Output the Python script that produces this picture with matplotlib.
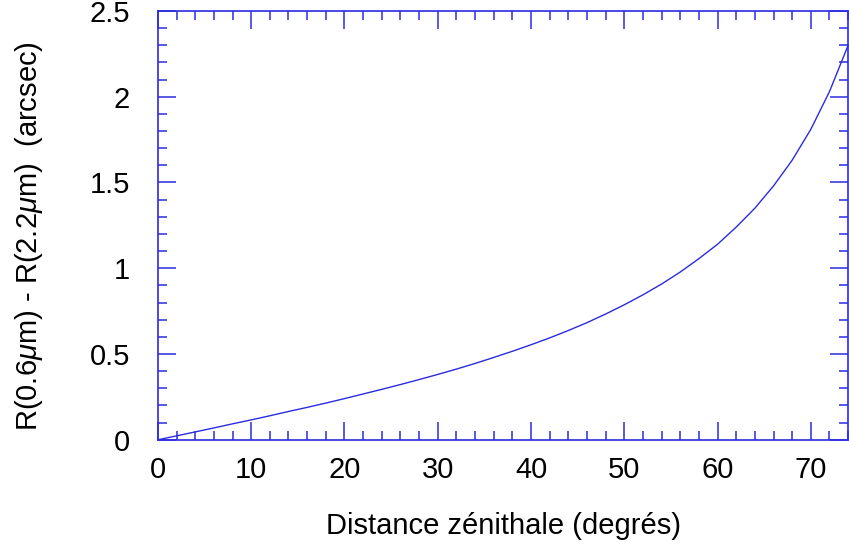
import matplotlib
matplotlib.use("Agg")
import matplotlib.pyplot as plt
from matplotlib.ticker import MultipleLocator

plt.rcParams["font.family"] = ["Liberation Sans", "DejaVu Sans"]
plt.rcParams["mathtext.fontset"] = "custom"
plt.rcParams["mathtext.it"] = "Liberation Sans:italic"
plt.rcParams["mathtext.rm"] = "Liberation Sans"

BLUE = "#2b2be0"

# zenith distance (degrees) and differential refraction (arcsec)
zenith = [0, 2, 4, 6, 8, 10, 12, 14, 16, 18, 20, 22, 24, 26, 28, 30, 32, 34, 36,
          38, 40, 42, 44, 46, 48, 50, 52, 54, 56, 58, 60, 62, 64, 66, 68, 70, 72, 74]
diff_refr = [0.0, 0.023, 0.046, 0.069, 0.093, 0.116, 0.140, 0.165, 0.189, 0.214,
             0.240, 0.267, 0.294, 0.322, 0.351, 0.381, 0.412, 0.445, 0.480, 0.516,
             0.554, 0.594, 0.637, 0.683, 0.733, 0.787, 0.845, 0.908, 0.978, 1.056,
             1.14, 1.24, 1.35, 1.48, 1.63, 1.81, 2.03, 2.30]

fig = plt.figure(figsize=(8.49, 5.47), dpi=100)
ax = fig.add_axes([0.186, 0.196, 0.813, 0.784])

ax.plot(zenith, diff_refr, color=BLUE, linewidth=1.0, clip_on=False)

ax.set_xlim(0, 74)
ax.set_ylim(0, 2.5)
ax.xaxis.set_major_locator(MultipleLocator(10))
ax.xaxis.set_minor_locator(MultipleLocator(2))
ax.yaxis.set_major_locator(MultipleLocator(0.5))
ax.yaxis.set_minor_locator(MultipleLocator(0.1))
ax.set_yticks([0, 0.5, 1, 1.5, 2, 2.5])
ax.set_yticklabels(["0", "0.5", "1", "1.5", "2", "2.5"])

ax.tick_params(which="both", direction="in", top=True, right=True,
               color=BLUE, width=1.1, labelsize=21, labelcolor="black")
ax.tick_params(which="major", length=13)
ax.tick_params(which="minor", length=6.5)
ax.tick_params(axis="y", which="major", pad=20)
ax.tick_params(axis="x", which="major", pad=12)

for spine in ax.spines.values():
    spine.set_color(BLUE)
    spine.set_linewidth(1.2)

ax.set_xlabel("Distance zénithale (degrés)", fontsize=21, labelpad=20)
ax.set_ylabel(r"R(0.6$\mu$m) - R(2.2$\mu$m)  (arcsec)", fontsize=21, labelpad=32)
ax.yaxis.label.set_y(0.475)

fig.savefig("out.png", dpi=100)
